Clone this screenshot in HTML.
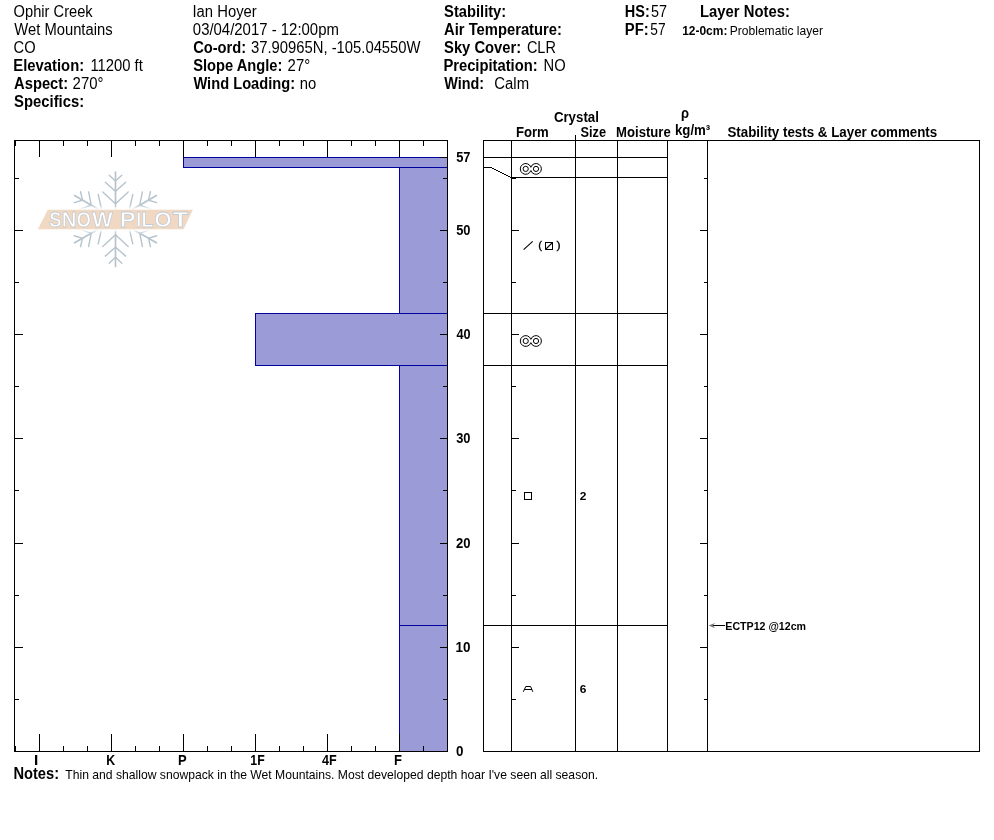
<!DOCTYPE html>
<html lang="en">
<head>
<meta charset="utf-8">
<title>Snow Pit Profile - Ophir Creek</title>
<style>
html, body { margin: 0; padding: 0; background: #fff; }
body { width: 994px; height: 840px; overflow: hidden; }
svg { display: block; font-family: 'Liberation Sans', sans-serif; }
svg text { fill: #000; }
</style>
</head>
<body>
<svg width="994" height="840" viewBox="0 0 994 840">
<rect width="994" height="840" fill="#fff"/>
<g stroke="#b7c4cd" fill="none" stroke-linecap="round">
<g transform="translate(115.5 219.2) rotate(0)"><g stroke-width="1.7"><line x1="0" y1="-9" x2="0" y2="-47.2"/></g><g stroke-width="1.4"><path d="M-6.3 -44 L0 -38.1 L6.3 -44"/><path d="M-10.2 -36.9 L0 -28 L10.2 -36.9"/><path d="M-12.7 -27.3 L0 -15.5 L12.7 -27.3"/></g></g>
<g transform="translate(115.5 219.2) rotate(60)"><g stroke-width="1.7"><line x1="0" y1="-9" x2="0" y2="-47.2"/></g><g stroke-width="1.4"><path d="M-6.3 -44 L0 -38.1 L6.3 -44"/><path d="M-10.2 -36.9 L0 -28 L10.2 -36.9"/><path d="M-12.7 -27.3 L0 -15.5 L12.7 -27.3"/></g></g>
<g transform="translate(115.5 219.2) rotate(120)"><g stroke-width="1.7"><line x1="0" y1="-9" x2="0" y2="-47.2"/></g><g stroke-width="1.4"><path d="M-6.3 -44 L0 -38.1 L6.3 -44"/><path d="M-10.2 -36.9 L0 -28 L10.2 -36.9"/><path d="M-12.7 -27.3 L0 -15.5 L12.7 -27.3"/></g></g>
<g transform="translate(115.5 219.2) rotate(180)"><g stroke-width="1.7"><line x1="0" y1="-9" x2="0" y2="-47.2"/></g><g stroke-width="1.4"><path d="M-6.3 -44 L0 -38.1 L6.3 -44"/><path d="M-10.2 -36.9 L0 -28 L10.2 -36.9"/><path d="M-12.7 -27.3 L0 -15.5 L12.7 -27.3"/></g></g>
<g transform="translate(115.5 219.2) rotate(240)"><g stroke-width="1.7"><line x1="0" y1="-9" x2="0" y2="-47.2"/></g><g stroke-width="1.4"><path d="M-6.3 -44 L0 -38.1 L6.3 -44"/><path d="M-10.2 -36.9 L0 -28 L10.2 -36.9"/><path d="M-12.7 -27.3 L0 -15.5 L12.7 -27.3"/></g></g>
<g transform="translate(115.5 219.2) rotate(300)"><g stroke-width="1.7"><line x1="0" y1="-9" x2="0" y2="-47.2"/></g><g stroke-width="1.4"><path d="M-6.3 -44 L0 -38.1 L6.3 -44"/><path d="M-10.2 -36.9 L0 -28 L10.2 -36.9"/><path d="M-12.7 -27.3 L0 -15.5 L12.7 -27.3"/></g></g>
</g>
<defs><filter id="glow" x="-10%" y="-40%" width="120%" height="180%"><feGaussianBlur stdDeviation="1.6"/></filter></defs>
<polygon points="45.5,207.2 197,207.2 185.4,231.8 33.8,231.8" fill="#fff" filter="url(#glow)"/>
<polygon points="47.8,209.7 192.9,209.7 183.6,229.3 37.9,229.3" fill="#f0d8c3"/>
<text y="227.3" font-size="22.6" font-weight="bold" style="fill:#fff;stroke:#c3cbd3;stroke-width:0.8px"><tspan x="49.32" textLength="12.17" lengthAdjust="spacingAndGlyphs">S</tspan><tspan x="61.63" textLength="14.72" lengthAdjust="spacingAndGlyphs">N</tspan><tspan x="76.42" textLength="14.39" lengthAdjust="spacingAndGlyphs">O</tspan><tspan x="91.90" textLength="20.70" lengthAdjust="spacingAndGlyphs">W</tspan><tspan x="115"> </tspan><tspan x="119.71" textLength="15.92" lengthAdjust="spacingAndGlyphs">P</tspan><tspan x="136.46" textLength="4.62" lengthAdjust="spacingAndGlyphs">I</tspan><tspan x="141.38" textLength="11.96" lengthAdjust="spacingAndGlyphs">L</tspan><tspan x="154.30" textLength="17.42" lengthAdjust="spacingAndGlyphs">O</tspan><tspan x="172.70" textLength="15.34" lengthAdjust="spacingAndGlyphs">T</tspan></text>
<g fill="#9b9bd7" stroke="#0000a0" stroke-width="1" shape-rendering="crispEdges">
<rect x="183.5" y="157.5" width="264" height="10"/>
<rect x="399.5" y="167.5" width="48" height="146"/>
<rect x="255.5" y="313.5" width="192" height="52"/>
<rect x="399.5" y="365.5" width="48" height="260"/>
<rect x="399.5" y="625.5" width="48" height="126"/>
</g>
<g stroke="#000" stroke-width="1" fill="none" shape-rendering="crispEdges">
<rect x="14.5" y="140.5" width="433" height="611"/>
<line x1="15.5" y1="141" x2="15.5" y2="146"/>
<line x1="15.5" y1="751" x2="15.5" y2="746"/>
<line x1="39.5" y1="141" x2="39.5" y2="157"/>
<line x1="39.5" y1="751" x2="39.5" y2="734"/>
<line x1="63.5" y1="141" x2="63.5" y2="146"/>
<line x1="63.5" y1="751" x2="63.5" y2="746"/>
<line x1="87.5" y1="141" x2="87.5" y2="146"/>
<line x1="87.5" y1="751" x2="87.5" y2="746"/>
<line x1="111.5" y1="141" x2="111.5" y2="157"/>
<line x1="111.5" y1="751" x2="111.5" y2="734"/>
<line x1="135.5" y1="141" x2="135.5" y2="146"/>
<line x1="135.5" y1="751" x2="135.5" y2="746"/>
<line x1="159.5" y1="141" x2="159.5" y2="146"/>
<line x1="159.5" y1="751" x2="159.5" y2="746"/>
<line x1="183.5" y1="141" x2="183.5" y2="157"/>
<line x1="183.5" y1="751" x2="183.5" y2="734"/>
<line x1="207.5" y1="141" x2="207.5" y2="146"/>
<line x1="207.5" y1="751" x2="207.5" y2="746"/>
<line x1="231.5" y1="141" x2="231.5" y2="146"/>
<line x1="231.5" y1="751" x2="231.5" y2="746"/>
<line x1="255.5" y1="141" x2="255.5" y2="157"/>
<line x1="255.5" y1="751" x2="255.5" y2="734"/>
<line x1="279.5" y1="141" x2="279.5" y2="146"/>
<line x1="279.5" y1="751" x2="279.5" y2="746"/>
<line x1="303.5" y1="141" x2="303.5" y2="146"/>
<line x1="303.5" y1="751" x2="303.5" y2="746"/>
<line x1="327.5" y1="141" x2="327.5" y2="157"/>
<line x1="327.5" y1="751" x2="327.5" y2="734"/>
<line x1="351.5" y1="141" x2="351.5" y2="146"/>
<line x1="351.5" y1="751" x2="351.5" y2="746"/>
<line x1="375.5" y1="141" x2="375.5" y2="146"/>
<line x1="375.5" y1="751" x2="375.5" y2="746"/>
<line x1="399.5" y1="141" x2="399.5" y2="157"/>
<line x1="399.5" y1="751" x2="399.5" y2="734"/>
<line x1="423.5" y1="141" x2="423.5" y2="146"/>
<line x1="423.5" y1="751" x2="423.5" y2="746"/>
<line x1="15" y1="751.5" x2="23" y2="751.5"/>
<line x1="447" y1="751.5" x2="440" y2="751.5"/>
<line x1="15" y1="699.5" x2="19" y2="699.5"/>
<line x1="447" y1="699.5" x2="443" y2="699.5"/>
<line x1="15" y1="647.5" x2="23" y2="647.5"/>
<line x1="447" y1="647.5" x2="440" y2="647.5"/>
<line x1="15" y1="595.5" x2="19" y2="595.5"/>
<line x1="447" y1="595.5" x2="443" y2="595.5"/>
<line x1="15" y1="543.5" x2="23" y2="543.5"/>
<line x1="447" y1="543.5" x2="440" y2="543.5"/>
<line x1="15" y1="490.5" x2="19" y2="490.5"/>
<line x1="447" y1="490.5" x2="443" y2="490.5"/>
<line x1="15" y1="438.5" x2="23" y2="438.5"/>
<line x1="447" y1="438.5" x2="440" y2="438.5"/>
<line x1="15" y1="386.5" x2="19" y2="386.5"/>
<line x1="447" y1="386.5" x2="443" y2="386.5"/>
<line x1="15" y1="334.5" x2="23" y2="334.5"/>
<line x1="447" y1="334.5" x2="440" y2="334.5"/>
<line x1="15" y1="282.5" x2="19" y2="282.5"/>
<line x1="447" y1="282.5" x2="443" y2="282.5"/>
<line x1="15" y1="230.5" x2="23" y2="230.5"/>
<line x1="447" y1="230.5" x2="440" y2="230.5"/>
<line x1="15" y1="178.5" x2="19" y2="178.5"/>
<line x1="447" y1="178.5" x2="443" y2="178.5"/>
<line x1="447" y1="157.5" x2="440" y2="157.5"/>
</g>
<g stroke="#000" stroke-width="1" fill="none" shape-rendering="crispEdges">
<rect x="483.5" y="140.5" width="496" height="611"/>
<line x1="511.5" y1="140" x2="511.5" y2="751"/>
<line x1="617.5" y1="140" x2="617.5" y2="751"/>
<line x1="667.5" y1="140" x2="667.5" y2="751"/>
<line x1="707.5" y1="140" x2="707.5" y2="751"/>
<line x1="575.5" y1="135" x2="575.5" y2="751"/>
<line x1="483" y1="157.5" x2="667" y2="157.5"/>
<line x1="511" y1="177.5" x2="667" y2="177.5"/>
<line x1="483" y1="313.5" x2="667" y2="313.5"/>
<line x1="483" y1="365.5" x2="667" y2="365.5"/>
<line x1="483" y1="625.5" x2="667" y2="625.5"/>
<line x1="483" y1="167.5" x2="491" y2="167.5"/>
<line x1="511" y1="699.5" x2="516" y2="699.5"/>
<line x1="708" y1="699.5" x2="704" y2="699.5"/>
<line x1="511" y1="647.5" x2="519" y2="647.5"/>
<line x1="708" y1="647.5" x2="700" y2="647.5"/>
<line x1="511" y1="595.5" x2="516" y2="595.5"/>
<line x1="708" y1="595.5" x2="704" y2="595.5"/>
<line x1="511" y1="543.5" x2="519" y2="543.5"/>
<line x1="708" y1="543.5" x2="700" y2="543.5"/>
<line x1="511" y1="490.5" x2="516" y2="490.5"/>
<line x1="708" y1="490.5" x2="704" y2="490.5"/>
<line x1="511" y1="438.5" x2="519" y2="438.5"/>
<line x1="708" y1="438.5" x2="700" y2="438.5"/>
<line x1="511" y1="386.5" x2="516" y2="386.5"/>
<line x1="708" y1="386.5" x2="704" y2="386.5"/>
<line x1="511" y1="334.5" x2="519" y2="334.5"/>
<line x1="708" y1="334.5" x2="700" y2="334.5"/>
<line x1="511" y1="282.5" x2="516" y2="282.5"/>
<line x1="708" y1="282.5" x2="704" y2="282.5"/>
<line x1="511" y1="230.5" x2="519" y2="230.5"/>
<line x1="708" y1="230.5" x2="700" y2="230.5"/>
<line x1="511" y1="178.5" x2="516" y2="178.5"/>
<line x1="708" y1="178.5" x2="704" y2="178.5"/>
</g>
<line x1="491" y1="167.5" x2="511" y2="177.5" stroke="#000" stroke-width="1" shape-rendering="crispEdges"/>
<g stroke="#000" fill="none" stroke-width="1">
<path d="M530.85 167.28 A5.4 5.4 0 1 0 530.85 170.52 A5.4 5.4 0 1 0 530.85 167.28 Z"/>
<circle cx="525.7" cy="168.9" r="2.6"/>
<circle cx="536.0" cy="168.9" r="2.6"/>
<path d="M530.85 339.38 A5.4 5.4 0 1 0 530.85 342.62 A5.4 5.4 0 1 0 530.85 339.38 Z"/>
<circle cx="525.7" cy="341.0" r="2.6"/>
<circle cx="536.0" cy="341.0" r="2.6"/>
</g>
<g stroke="#000" fill="none" stroke-width="1.1">
<line x1="523.6" y1="249.6" x2="532.7" y2="241.4"/>
<rect x="545.5" y="242.5" width="7" height="7" shape-rendering="crispEdges"/>
<line x1="545.6" y1="249.4" x2="552.4" y2="242.6" stroke-width="1.3"/>
<rect x="524.5" y="492.5" width="7" height="7" shape-rendering="crispEdges" stroke-width="1"/>
</g>
<g stroke="#000" fill="none" stroke-width="1">
<path d="M523.3 691.8 L525.8 686.5 L530.6 686.5 L532.8 691.8 M524.4 689.5 L531.9 689.5"/>
</g>
<line x1="710.5" y1="625.5" x2="725" y2="625.5" stroke="#000" stroke-width="1" shape-rendering="crispEdges"/>
<path d="M708.6 625.5 L715 622.9 L713 625.5 L715 628.3 Z" fill="#777"/>
<g font-family="'Liberation Sans', sans-serif">
<text x="13.61" y="17" font-size="15.6" textLength="79.06" lengthAdjust="spacingAndGlyphs">Ophir Creek</text>
<text x="192.44" y="17" font-size="15.6" textLength="64.33" lengthAdjust="spacingAndGlyphs">Ian Hoyer</text>
<text x="444.07" y="17" font-size="15.6" font-weight="bold" textLength="62.15" lengthAdjust="spacingAndGlyphs">Stability:</text>
<text x="624.79" y="17" font-size="15.6" font-weight="bold" textLength="25.01" lengthAdjust="spacingAndGlyphs">HS:</text>
<text x="650.95" y="17" font-size="15.6" textLength="16.03" lengthAdjust="spacingAndGlyphs">57</text>
<text x="700.07" y="17" font-size="15.6" font-weight="bold" textLength="89.76" lengthAdjust="spacingAndGlyphs">Layer Notes:</text>
<text x="14.30" y="35" font-size="15.6" textLength="98.26" lengthAdjust="spacingAndGlyphs">Wet Mountains</text>
<text x="192.83" y="35" font-size="15.6" textLength="146.04" lengthAdjust="spacingAndGlyphs">03/04/2017 - 12:00pm</text>
<text x="444.07" y="35" font-size="15.6" font-weight="bold" textLength="117.86" lengthAdjust="spacingAndGlyphs">Air Temperature:</text>
<text x="624.77" y="35" font-size="15.6" font-weight="bold" textLength="23.85" lengthAdjust="spacingAndGlyphs">PF:</text>
<text x="650.27" y="35" font-size="15.6" textLength="15.29" lengthAdjust="spacingAndGlyphs">57</text>
<text x="682.15" y="35" font-size="13.0" font-weight="bold" textLength="45.24" lengthAdjust="spacingAndGlyphs">12-0cm:</text>
<text x="729.76" y="35" font-size="13.0" textLength="93.20" lengthAdjust="spacingAndGlyphs">Problematic layer</text>
<text x="13.61" y="53" font-size="15.6" textLength="22.03" lengthAdjust="spacingAndGlyphs">CO</text>
<text x="193.14" y="53" font-size="15.6" font-weight="bold" textLength="53.08" lengthAdjust="spacingAndGlyphs">Co-ord:</text>
<text x="250.94" y="53" font-size="15.6" textLength="169.63" lengthAdjust="spacingAndGlyphs">37.90965N, -105.04550W</text>
<text x="444.07" y="53" font-size="15.6" font-weight="bold" textLength="77.16" lengthAdjust="spacingAndGlyphs">Sky Cover:</text>
<text x="526.92" y="53" font-size="15.6" textLength="28.98" lengthAdjust="spacingAndGlyphs">CLR</text>
<text x="13.37" y="71" font-size="15.6" font-weight="bold" textLength="70.75" lengthAdjust="spacingAndGlyphs">Elevation:</text>
<text x="90.38" y="71" font-size="15.6" textLength="52.37" lengthAdjust="spacingAndGlyphs">11200 ft</text>
<text x="193.17" y="71" font-size="15.6" font-weight="bold" textLength="89.14" lengthAdjust="spacingAndGlyphs">Slope Angle:</text>
<text x="287.60" y="71" font-size="15.6" textLength="22.54" lengthAdjust="spacingAndGlyphs">27°</text>
<text x="443.38" y="71" font-size="15.6" font-weight="bold" textLength="94.25" lengthAdjust="spacingAndGlyphs">Precipitation:</text>
<text x="543.55" y="71" font-size="15.6" textLength="22.09" lengthAdjust="spacingAndGlyphs">NO</text>
<text x="14.07" y="89" font-size="15.6" font-weight="bold" textLength="54.05" lengthAdjust="spacingAndGlyphs">Aspect:</text>
<text x="72.60" y="89" font-size="15.6" textLength="30.84" lengthAdjust="spacingAndGlyphs">270°</text>
<text x="193.40" y="89" font-size="15.6" font-weight="bold" textLength="101.72" lengthAdjust="spacingAndGlyphs">Wind Loading:</text>
<text x="299.77" y="89" font-size="15.6" textLength="16.53" lengthAdjust="spacingAndGlyphs">no</text>
<text x="444.30" y="89" font-size="15.6" font-weight="bold" textLength="39.79" lengthAdjust="spacingAndGlyphs">Wind:</text>
<text x="494.30" y="89" font-size="15.6" textLength="34.77" lengthAdjust="spacingAndGlyphs">Calm</text>
<text x="14.07" y="107" font-size="15.6" font-weight="bold" textLength="70.06" lengthAdjust="spacingAndGlyphs">Specifics:</text>
<text x="553.89" y="122" font-size="14.5" font-weight="bold" textLength="45.00" lengthAdjust="spacingAndGlyphs">Crystal</text>
<text x="515.88" y="137" font-size="14.5" font-weight="bold" textLength="32.82" lengthAdjust="spacingAndGlyphs">Form</text>
<text x="580.50" y="137" font-size="14.5" font-weight="bold" textLength="25.52" lengthAdjust="spacingAndGlyphs">Size</text>
<text x="616.08" y="137" font-size="14.5" font-weight="bold" textLength="54.65" lengthAdjust="spacingAndGlyphs">Moisture</text>
<text x="681.09" y="118" font-size="14.5" font-weight="bold" textLength="8.03" lengthAdjust="spacingAndGlyphs">ρ</text>
<text x="674.97" y="135" font-size="14.5" font-weight="bold" textLength="35.30" lengthAdjust="spacingAndGlyphs">kg/m³</text>
<text x="727.39" y="137" font-size="14.5" font-weight="bold" textLength="209.85" lengthAdjust="spacingAndGlyphs">Stability tests &amp; Layer comments</text>
<text x="13.38" y="779" font-size="15.6" font-weight="bold" textLength="45.74" lengthAdjust="spacingAndGlyphs">Notes:</text>
<text x="65.31" y="779" font-size="13.0" textLength="532.79" lengthAdjust="spacingAndGlyphs">Thin and shallow snowpack in the Wet Mountains. Most developed depth hoar I've seen all season.</text>
<text x="579.82" y="500" font-size="11" font-weight="bold" textLength="6.63" lengthAdjust="spacingAndGlyphs">2</text>
<text x="579.77" y="693" font-size="11" font-weight="bold" textLength="6.63" lengthAdjust="spacingAndGlyphs">6</text>
<text x="725.32" y="630" font-size="11" font-weight="bold" textLength="80.74" lengthAdjust="spacingAndGlyphs">ECTP12 @12cm</text>
<text x="538.20" y="249" font-size="10.5" stroke="#000" stroke-width="0.3" textLength="3.75" lengthAdjust="spacingAndGlyphs">(</text>
<text x="556.64" y="249" font-size="10.5" stroke="#000" stroke-width="0.3" textLength="4.12" lengthAdjust="spacingAndGlyphs">)</text>
<text x="456.20" y="162" font-size="14.5" font-weight="bold" textLength="14.32" lengthAdjust="spacingAndGlyphs">57</text>
<text x="456.20" y="235" font-size="14.5" font-weight="bold" textLength="14.32" lengthAdjust="spacingAndGlyphs">50</text>
<text x="456.40" y="339" font-size="14.5" font-weight="bold" textLength="14.11" lengthAdjust="spacingAndGlyphs">40</text>
<text x="456.20" y="443" font-size="14.5" font-weight="bold" textLength="14.32" lengthAdjust="spacingAndGlyphs">30</text>
<text x="455.99" y="548" font-size="14.5" font-weight="bold" textLength="14.54" lengthAdjust="spacingAndGlyphs">20</text>
<text x="455.56" y="652" font-size="14.5" font-weight="bold" textLength="14.99" lengthAdjust="spacingAndGlyphs">10</text>
<text x="455.98" y="756" font-size="14.5" font-weight="bold" textLength="7.46" lengthAdjust="spacingAndGlyphs">0</text>
<text x="34.04" y="765" font-size="14.5" font-weight="bold" textLength="4.27" lengthAdjust="spacingAndGlyphs">I</text>
<text x="106.13" y="765" font-size="14.5" font-weight="bold" textLength="8.91" lengthAdjust="spacingAndGlyphs">K</text>
<text x="178.09" y="765" font-size="14.5" font-weight="bold" textLength="8.65" lengthAdjust="spacingAndGlyphs">P</text>
<text x="250.33" y="765" font-size="14.5" font-weight="bold" textLength="14.37" lengthAdjust="spacingAndGlyphs">1F</text>
<text x="322.10" y="765" font-size="14.5" font-weight="bold" textLength="14.71" lengthAdjust="spacingAndGlyphs">4F</text>
<text x="393.89" y="765" font-size="14.5" font-weight="bold" textLength="7.94" lengthAdjust="spacingAndGlyphs">F</text>
</g>
</svg>
</body>
</html>
